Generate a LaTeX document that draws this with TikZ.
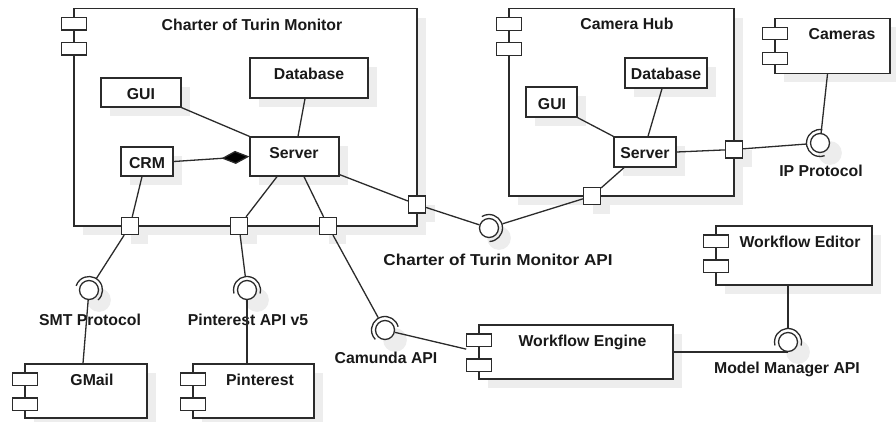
\documentclass[tikz,border=0pt]{standalone}
\usepackage{fontspec}
\setmainfont{Liberation Sans}
\usetikzlibrary{shadows,arrows.meta,calc}
\definecolor{inkline}{HTML}{2B2B2B}
\definecolor{shadowgray}{HTML}{EDEDED}
\tikzset{
  box/.style={draw=inkline, fill=white, line width=1.3pt, inner sep=0pt,
    drop shadow={shadow xshift=9pt, shadow yshift=-9pt, fill=shadowgray, opacity=1}},
  port/.style={box, minimum size=17pt},
  ball/.style={circle, draw=inkline, fill=white, line width=1.3pt, minimum size=19pt, inner sep=0pt,
    drop shadow={shadow xshift=8pt, shadow yshift=-8pt, shadow scale=1.25, fill=shadowgray, opacity=1}},
  icon/.style={draw=inkline, fill=white, line width=1.3pt, minimum width=25pt, minimum height=12.5pt, inner sep=0pt},
  txt/.style={anchor=base, inner sep=0pt, font=\fontsize{15.8}{18}\selectfont\bfseries, text=black!90},
  wire/.style={draw=inkline, line width=1.3pt},
}
% component box: name, left, top, right, bottom
\newcommand\compbox[5]{%
  \node[box, minimum width={((#4)-(#2))*1pt}, minimum height={((#5)-(#3))*1pt}]
    (#1) at ({((#2)+(#4))/2},{((#3)+(#5))/2}) {};
  \node[icon] (#1-i1) at (#2,{(#3)+15.25}) {};
  \node[icon] (#1-i2) at (#2,{(#3)+40.25}) {};}
% plain box: name, left, top, right, bottom
\newcommand\partbox[5]{%
  \node[box, minimum width={((#4)-(#2))*1pt}, minimum height={((#5)-(#3))*1pt}]
    (#1) at ({((#2)+(#4))/2},{((#3)+(#5))/2}) {};}
% socket arc round a ball node, centred on the given direction
\newcommand\socket[2]{%
  \draw[wire] (#1) ++({(#2)-105}:13.5pt) arc[start angle={(#2)-105}, end angle={(#2)+105}, radius=13.5pt];}
\begin{document}
\begin{tikzpicture}[x=1pt,y=-1pt]
\useasboundingbox (0,0) rectangle (896,421);

% ---- components ----
\compbox{ctm}{74}{8.5}{417}{226}
\compbox{hub}{509}{8.7}{734}{196}
\compbox{cams}{775}{18.3}{890}{73.3}
\compbox{wfed}{716}{226}{872}{285}
\compbox{wfen}{479}{325}{673}{379}
\compbox{gmail}{25}{364}{147}{418}
\compbox{pint}{193}{364}{314}{418}

% ---- parts inside Charter of Turin Monitor ----
\partbox{dbL}{250}{58}{368}{98}
\partbox{guiL}{101}{78}{181}{107}
\partbox{srvL}{250}{137}{339}{176}
\partbox{crm}{121}{147}{173}{176}

% ---- parts inside Camera Hub ----
\partbox{dbR}{625}{58}{707}{88}
\partbox{guiR}{526}{87}{577}{117}
\partbox{srvR}{614}{137}{676}{167}

% ---- ports ----
\node[port] (pA) at (130,226) {};
\node[port] (pB) at (239,226) {};
\node[port] (pC) at (328,226) {};
\node[port] (pD) at (417,204.5) {};
\node[port] (pE) at (734,149.5) {};
\node[port] (pF) at (592,196) {};

% ---- interfaces ----
\node[ball] (iSMT) at (89,290) {};
\node[ball] (iPin) at (247,290) {};
\node[ball] (iCam) at (385,330) {};
\node[ball] (iAPI) at (489,228) {};
\node[ball] (iIP)  at (820,143) {};
\node[ball] (iMM)  at (788,342) {};
\socket{iSMT}{57}
\socket{iPin}{90}
\socket{iCam}{119}
\socket{iAPI}{17}
\socket{iIP}{185}
\socket{iMM}{90}

% ---- texts ----
\node[txt] (tCtm)  at (252,30)  {Charter of Turin Monitor};
\node[txt] (tDbL)  at (309,79)  {Database};
\node[txt] (tGuiL) at (141,99)  {GUI};
\node[txt] (tSrvL) at (294,158) {Server};
\node[txt] (tCrm)  at (147,168) {CRM};
\node[txt] (tHub)  at (627,29)  {Camera Hub};
\node[txt] (tDbR)  at (666,79)  {Database};
\node[txt] (tGuiR) at (552,109) {GUI};
\node[txt] (tSrvR) at (645,158) {Server};
\node[txt] (tCams) at (842,39)  {Cameras};
\node[txt] (tIP)   at (821,176) {IP Protocol};
\node[txt] (tAPI)  at (498,265) {\scalebox{1.085}[1]{Charter of Turin Monitor API}};
\node[txt] (tWfed) at (800,247) {Workflow Editor};
\node[txt] (tWfen) at (582.5,346) {Workflow Engine};
\node[txt] (tMM)   at (787,373) {Model Manager API};
\node[txt] (tSMT)  at (90,325)  {SMT Protocol};
\node[txt] (tPinA) at (248,325) {Pinterest API v5};
\node[txt] (tCam)  at (386,363) {Camunda API};
\node[txt] (tGm)   at (92,385)  {GMail};
\node[txt] (tPin)  at (260,385) {Pinterest};

% ---- connectors inside Charter of Turin Monitor ----
\draw[wire] (guiL.south east) -- (srvL.north west);
\draw[wire] ([xshift=-4pt]dbL.south) -- ([xshift=3.5pt]srvL.north);
\draw[wire, -{Diamond[length=28pt,width=13pt,fill=black]}] (crm.east) -- (srvL.west);
\draw[wire] ([xshift=-5pt]crm.south) -- (pA);
\draw[wire] ([xshift=-17.5pt]srvL.south) -- (pB);
\draw[wire] ([xshift=9.5pt]srvL.south) -- (pC);
\draw[wire] ([yshift=2pt]srvL.south east) -- (pD);

% ---- connectors inside Camera Hub ----
\draw[wire] (guiR.south east) -- (srvR.north west);
\draw[wire] ([xshift=-4pt]dbR.south) -- ([xshift=3pt]srvR.north);
\draw[wire] (srvR.east) -- (pE);
\draw[wire] ([xshift=-21pt]srvR.south) -- (pF);

% ---- external connectors ----
\draw[wire] (pD) -- (iAPI);
\draw[wire, shorten >=4pt] (pF) -- (iAPI);
\draw[wire, shorten >=4pt] (pE) -- (iIP);
\draw[wire] ([xshift=-5pt]cams.south) -- (iIP);
\draw[wire, shorten >=4pt] (pA) -- (iSMT);
\draw[wire] (iSMT) -- ([xshift=-3pt]gmail.north);
\draw[wire, shorten >=4pt] (pB) -- (iPin);
\draw[wire] (iPin) -- ([xshift=-6.5pt]pint.north);
\draw[wire, shorten >=4pt] (pC) -- (iCam);
\draw[wire, shorten >=12.5pt] (iCam) -- (wfen.west);
\draw[wire] (wfen.east) -- (wfen.east -| iMM.south);
\draw[wire, shorten >=4pt] ([xshift=-6pt]wfed.south) -- (iMM);
\end{tikzpicture}
\end{document}
